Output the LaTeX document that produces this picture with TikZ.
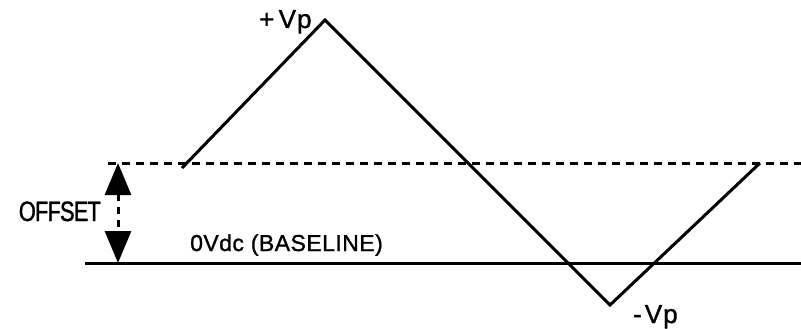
\documentclass[tikz,border=0pt]{standalone}
\usepackage{fontspec}
\setmainfont{Liberation Sans}[FakeBold=1.2]
\newfontfamily\condfont[FakeStretch=0.78,LetterSpace=-3,FakeBold=1.2]{Liberation Sans}
\usetikzlibrary{arrows.meta}
\begin{document}
\begin{tikzpicture}[x=1pt,y=-1pt,
  wave/.style={line width=3pt,line join=miter},
  level/.style={line width=3pt},
  dashlevel/.style={line width=3pt,dash pattern=on 8pt off 6pt},
  lbl/.style={inner sep=0pt,font=\fontsize{23}{26}\selectfont},
  vlbl/.style={inner sep=0pt,font=\fontsize{26}{28}\selectfont},
  offarrow/.style={line width=3pt,dash pattern=on 7pt off 6pt,
    {Triangle[width=26pt,length=32pt]}-{Triangle[width=26pt,length=32pt]}}]
\useasboundingbox (0,0) rectangle (801,329);
% levels
\coordinate (d0) at (108,163);
\coordinate (d1) at (801,163);
\coordinate (b0) at (85,263);
\coordinate (b1) at (801,263);
\draw[dashlevel] (d0) -- (d1);
\draw[level] (b0) -- (b1);
% wave
\coordinate (w0) at (182,168);
\coordinate (w1) at (325,20);
\coordinate (w2) at (610,305);
\coordinate (w3) at (760,163);
\draw[wave] (w0) -- (w1) -- (w2) -- (w3);
% offset arrow
\coordinate (o1) at (118,163);
\coordinate (o2) at (118,263);
\draw[offarrow] (o1) -- (o2);
% labels
\node[inner sep=0pt,anchor=base east,font=\condfont\fontsize{28}{30}\selectfont] (off) at (101,221) {OFFSET};
\node[lbl,anchor=base west] (base) at (190,251) {\addfontfeature{LetterSpace=2}0Vdc (BASELINE)};
\node[vlbl,anchor=base west] (pv) at (259,28) {+\,V\kern1pt p};
\node[vlbl,anchor=base west] (nv) at (633,323) {-\kern3pt V\kern1pt p};
\end{tikzpicture}
\end{document}
